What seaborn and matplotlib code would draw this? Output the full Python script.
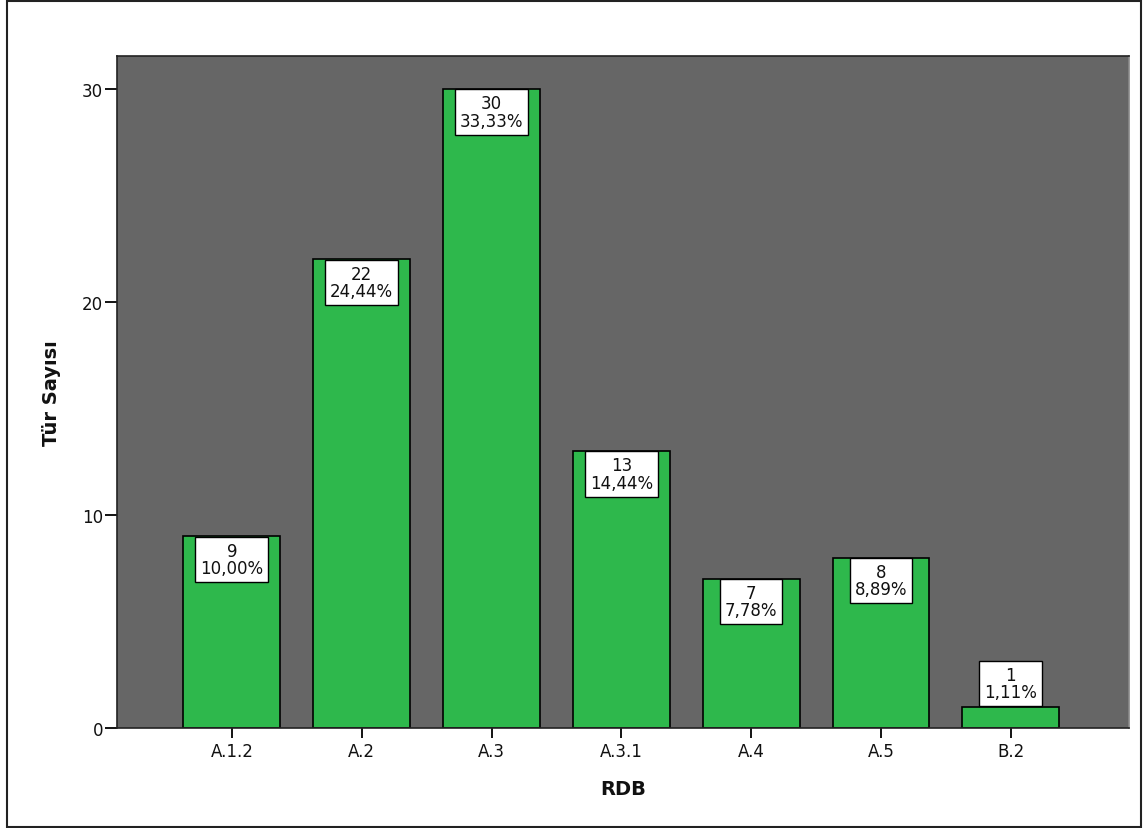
import matplotlib
matplotlib.use("Agg")
import matplotlib.pyplot as plt
import seaborn as sns
import pandas as pd
from matplotlib.patches import Rectangle

categories = ["A.1.2", "A.2", "A.3", "A.3.1", "A.4", "A.5", "B.2"]
counts = [9, 22, 30, 13, 7, 8, 1]
percent_labels = ["10,00%", "24,44%", "33,33%", "14,44%", "7,78%", "8,89%", "1,11%"]
y_ticks = [0, 10, 20, 30]

sns.set_style("white")
plt.rcParams["font.family"] = ["DejaVu Sans"]

W, H = 1144, 829
fig = plt.figure(figsize=(W / 100, H / 100), dpi=100)
ax = fig.add_axes([117 / W, (H - 729) / H, (1129 - 117) / W, (729 - 57) / H])

df = pd.DataFrame({"RDB": categories, "n": counts})
sns.barplot(data=df, x="RDB", y="n", color="#2EB84C", saturation=1,
            edgecolor="black", linewidth=1.2, width=0.746, ax=ax)

ax.set_facecolor("#666666")
ax.set_xlim(-0.885, 6.91)
ax.set_ylim(0, 31.55)
ax.set_yticks(y_ticks)
ax.set_yticklabels([str(t) for t in y_ticks])
ax.tick_params(axis="y", direction="out", length=9, width=1.3, color="black",
               labelsize=12, pad=1, left=True, labelcolor="#111111")
ax.tick_params(axis="x", direction="out", length=7, width=1.3, color="black",
               labelsize=12, pad=3, bottom=True, labelcolor="#111111")
for s in ax.spines.values():
    s.set_color("#222222")
    s.set_linewidth(1.2)
ax.spines["right"].set_color("#888888")

ax.set_xlabel("RDB", fontsize=14, fontweight="bold", labelpad=14)
ax.set_ylabel("Tür Sayısı", fontsize=14, fontweight="bold", labelpad=15)
ax.xaxis.label.set_color("#111111")
ax.yaxis.label.set_color("#111111")

# value labels
px_per_unit = (729 - 90) / 30.0
box_h_px = 46
for i, (v, p) in enumerate(zip(counts, percent_labels)):
    txt = f"{v}\n{p}"
    inside = v * px_per_unit >= box_h_px
    ax.annotate(txt, xy=(i, v), xytext=(0, -3.8 if inside else 3.8),
                textcoords="offset points",
                ha="center", va="top" if inside else "bottom",
                fontsize=12, multialignment="center", linespacing=0.95,
                color="#111111",
                bbox=dict(boxstyle="square,pad=0.3", fc="white", ec="black", lw=1))

# outer frame
fig.patches.append(Rectangle((7 / W, 1 / H), (1141 - 7) / W, (827 - 1) / H,
                             transform=fig.transFigure, fill=False,
                             edgecolor="#222222", linewidth=1.5))

fig.savefig("out.png", dpi=100)
